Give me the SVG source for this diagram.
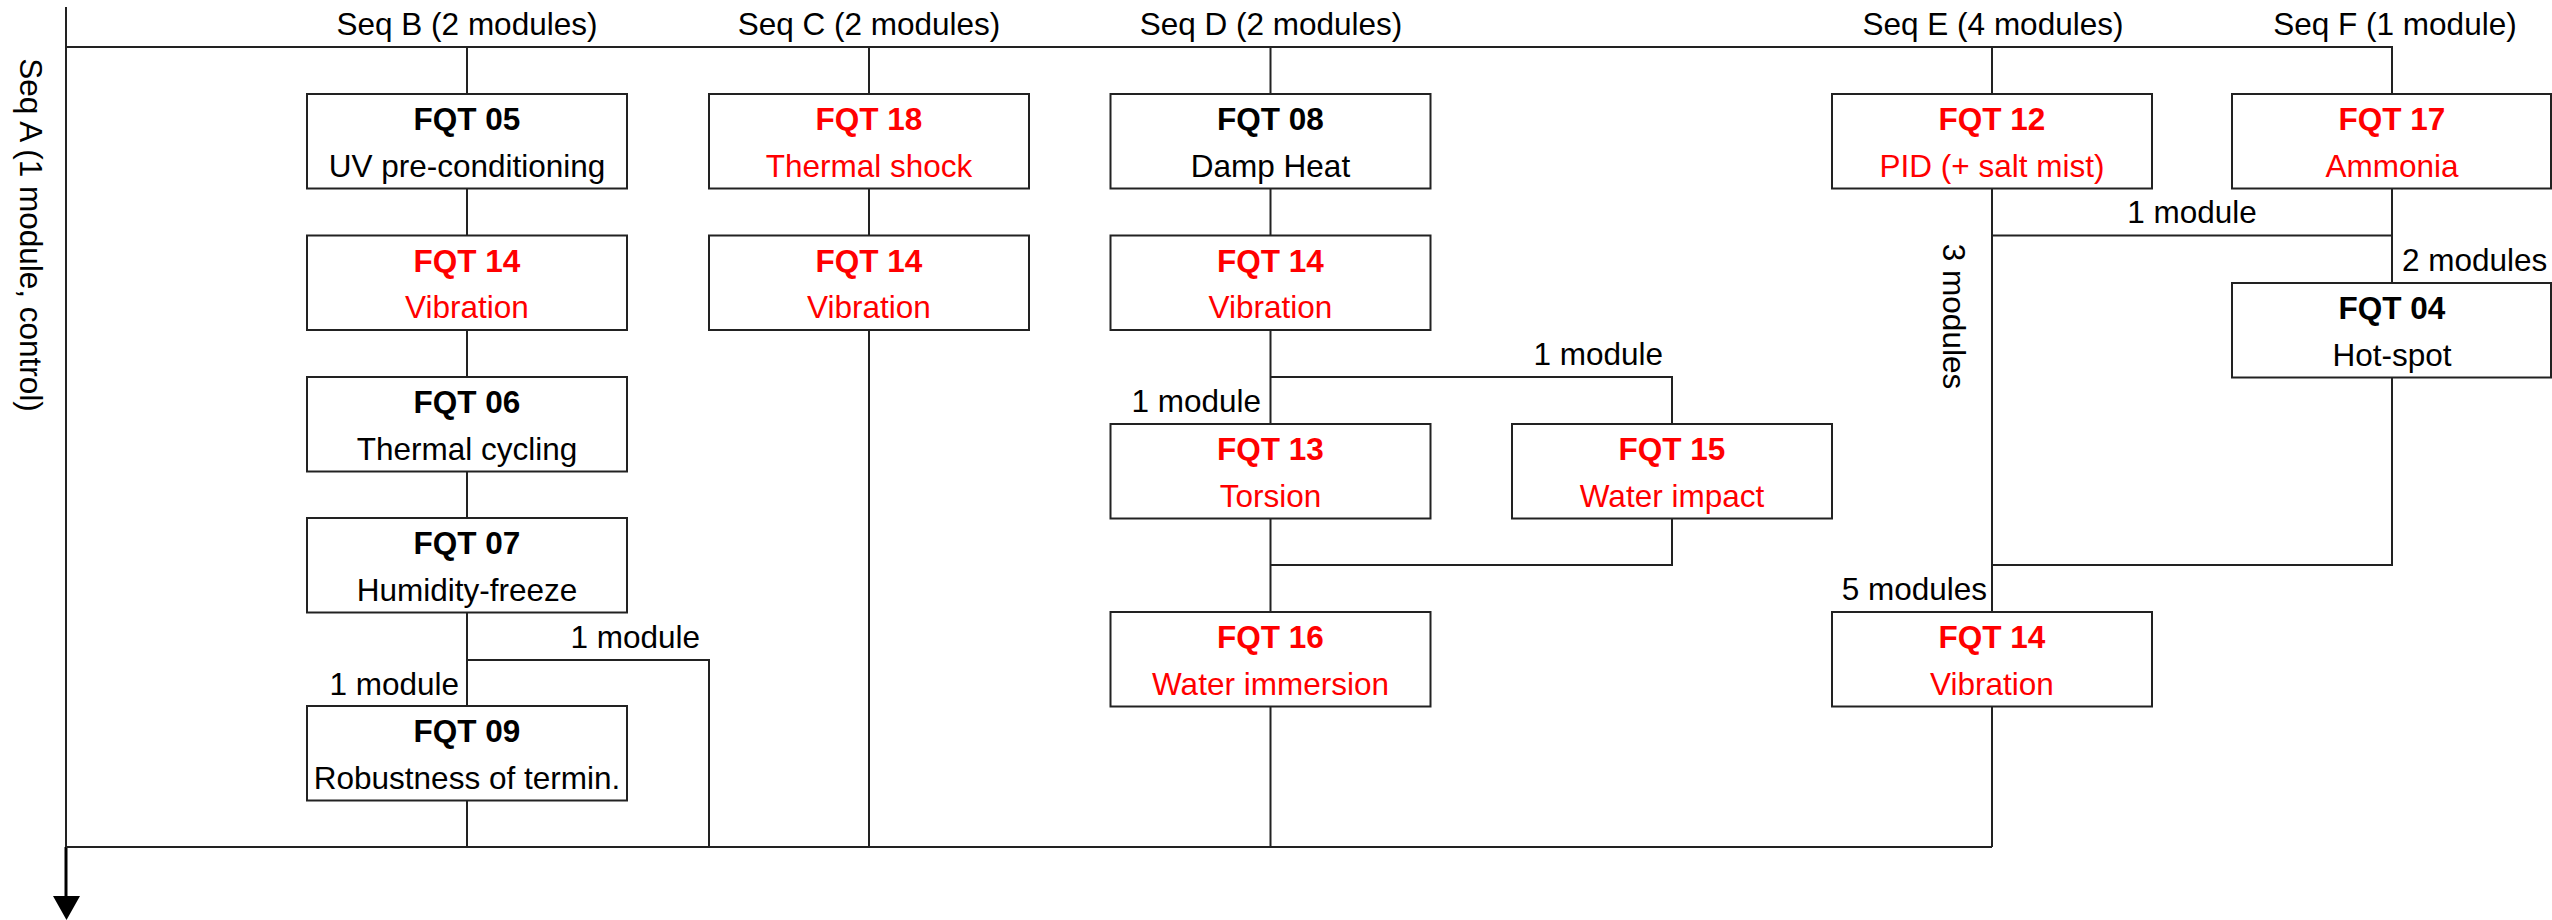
<svg xmlns="http://www.w3.org/2000/svg" width="2552" height="920" viewBox="0 0 2552 920">
  <style>
    text { font-family: "Liberation Sans", Arial, sans-serif; font-size: 31.5px; fill: #000; }
    .c { text-anchor: middle; }
    .e { text-anchor: end; }
    .s { text-anchor: start; }
    .b { font-weight: bold; }
    .red { fill: #ff0000; }
    .box { fill: #ffffff; stroke: #222; stroke-width: 2; }
    .ln { fill: none; stroke: #222; stroke-width: 2; }
  </style>

  <!-- connectors -->
  <g id="connectors">
    <!-- Seq A axis with arrow -->
    <path class="ln" d="M66,7 V898"/>
    <path d="M66,847 V898" stroke="#000" stroke-width="3"/>
    <polygon points="53,896 80,896 66.5,920" fill="#000"/>
    <!-- top distribution line -->
    <path class="ln" d="M66,47 H2392 V94"/>
    <!-- bottom collection line -->
    <path class="ln" d="M66,847 H1992"/>
    <!-- Seq B -->
    <path class="ln" d="M467,47 V94 M467,188.5 V235.5 M467,330 V377 M467,471.5 V518 M467,612.5 V706 M467,800.5 V847"/>
    <path class="ln" d="M467,660 H709 V847"/>
    <!-- Seq C -->
    <path class="ln" d="M869,47 V94 M869,188.5 V235.5 M869,330 V847"/>
    <!-- Seq D -->
    <path class="ln" d="M1270.5,47 V94 M1270.5,188.5 V235.5 M1270.5,330 V424 M1270.5,518.5 V612 M1270.5,706.5 V847"/>
    <path class="ln" d="M1270.5,377 H1672 V424"/>
    <path class="ln" d="M1270.5,565 H1672 V518.5"/>
    <!-- Seq E -->
    <path class="ln" d="M1992,47 V94 M1992,188.5 V612 M1992,706.5 V847"/>
    <!-- Seq F -->
    <path class="ln" d="M2392,188.5 V283 M2392,235.5 H1992 M2392,377.5 V565 H1992"/>
  </g>

  <!-- sequence headings and module counts -->
  <g id="labels">
    <text class="c" x="467" y="35">Seq B (2 modules)</text>
    <text class="c" x="869" y="35">Seq C (2 modules)</text>
    <text class="c" x="1271" y="35">Seq D (2 modules)</text>
    <text class="c" x="1993" y="35">Seq E (4 modules)</text>
    <text class="c" x="2395" y="35">Seq F (1 module)</text>
    <text class="c" transform="translate(20,235) rotate(90)">Seq A (1 module, control)</text>
    <text class="e" x="700" y="648">1 module</text>
    <text class="e" x="459" y="695">1 module</text>
    <text class="e" x="1261" y="412">1 module</text>
    <text class="e" x="1663" y="365">1 module</text>
    <text class="c" x="2192" y="223">1 module</text>
    <text class="s" x="2402" y="271">2 modules</text>
    <text class="e" x="1987" y="600">5 modules</text>
    <text class="c" transform="translate(1943,316.5) rotate(90)">3 modules</text>
  </g>

  <!-- Seq B -->
  <g id="fqt05">
    <rect class="box" x="307" y="94" width="320" height="94.5"/>
    <text class="c b" x="467" y="130">FQT 05</text>
    <text class="c" x="467" y="176.5">UV pre-conditioning</text>
  </g>
  <g id="fqt14b">
    <rect class="box" x="307" y="235.5" width="320" height="94.5"/>
    <text class="c b red" x="467" y="271.5">FQT 14</text>
    <text class="c red" x="467" y="318">Vibration</text>
  </g>
  <g id="fqt06">
    <rect class="box" x="307" y="377" width="320" height="94.5"/>
    <text class="c b" x="467" y="413">FQT 06</text>
    <text class="c" x="467" y="459.5">Thermal cycling</text>
  </g>
  <g id="fqt07">
    <rect class="box" x="307" y="518" width="320" height="94.5"/>
    <text class="c b" x="467" y="554">FQT 07</text>
    <text class="c" x="467" y="600.5">Humidity-freeze</text>
  </g>
  <g id="fqt09">
    <rect class="box" x="307" y="706" width="320" height="94.5"/>
    <text class="c b" x="467" y="742">FQT 09</text>
    <text class="c" x="467" y="788.5">Robustness of termin.</text>
  </g>

  <!-- Seq C -->
  <g id="fqt18">
    <rect class="box" x="709" y="94" width="320" height="94.5"/>
    <text class="c b red" x="869" y="130">FQT 18</text>
    <text class="c red" x="869" y="176.5">Thermal shock</text>
  </g>
  <g id="fqt14c">
    <rect class="box" x="709" y="235.5" width="320" height="94.5"/>
    <text class="c b red" x="869" y="271.5">FQT 14</text>
    <text class="c red" x="869" y="318">Vibration</text>
  </g>

  <!-- Seq D -->
  <g id="fqt08">
    <rect class="box" x="1110.5" y="94" width="320" height="94.5"/>
    <text class="c b" x="1270.5" y="130">FQT 08</text>
    <text class="c" x="1270.5" y="176.5">Damp Heat</text>
  </g>
  <g id="fqt14d">
    <rect class="box" x="1110.5" y="235.5" width="320" height="94.5"/>
    <text class="c b red" x="1270.5" y="271.5">FQT 14</text>
    <text class="c red" x="1270.5" y="318">Vibration</text>
  </g>
  <g id="fqt13">
    <rect class="box" x="1110.5" y="424" width="320" height="94.5"/>
    <text class="c b red" x="1270.5" y="460">FQT 13</text>
    <text class="c red" x="1270.5" y="506.5">Torsion</text>
  </g>
  <g id="fqt15">
    <rect class="box" x="1512" y="424" width="320" height="94.5"/>
    <text class="c b red" x="1672" y="460">FQT 15</text>
    <text class="c red" x="1672" y="506.5">Water impact</text>
  </g>
  <g id="fqt16">
    <rect class="box" x="1110.5" y="612" width="320" height="94.5"/>
    <text class="c b red" x="1270.5" y="648">FQT 16</text>
    <text class="c red" x="1270.5" y="694.5">Water immersion</text>
  </g>

  <!-- Seq E -->
  <g id="fqt12">
    <rect class="box" x="1832" y="94" width="320" height="94.5"/>
    <text class="c b red" x="1992" y="130">FQT 12</text>
    <text class="c red" x="1992" y="176.5">PID (+ salt mist)</text>
  </g>
  <g id="fqt14e">
    <rect class="box" x="1832" y="612" width="320" height="94.5"/>
    <text class="c b red" x="1992" y="648">FQT 14</text>
    <text class="c red" x="1992" y="694.5">Vibration</text>
  </g>

  <!-- Seq F -->
  <g id="fqt17">
    <rect class="box" x="2232" y="94" width="319" height="94.5"/>
    <text class="c b red" x="2392" y="130">FQT 17</text>
    <text class="c red" x="2392" y="176.5">Ammonia</text>
  </g>
  <g id="fqt04">
    <rect class="box" x="2232" y="283" width="319" height="94.5"/>
    <text class="c b" x="2392" y="319">FQT 04</text>
    <text class="c" x="2392" y="365.5">Hot-spot</text>
  </g>
</svg>
